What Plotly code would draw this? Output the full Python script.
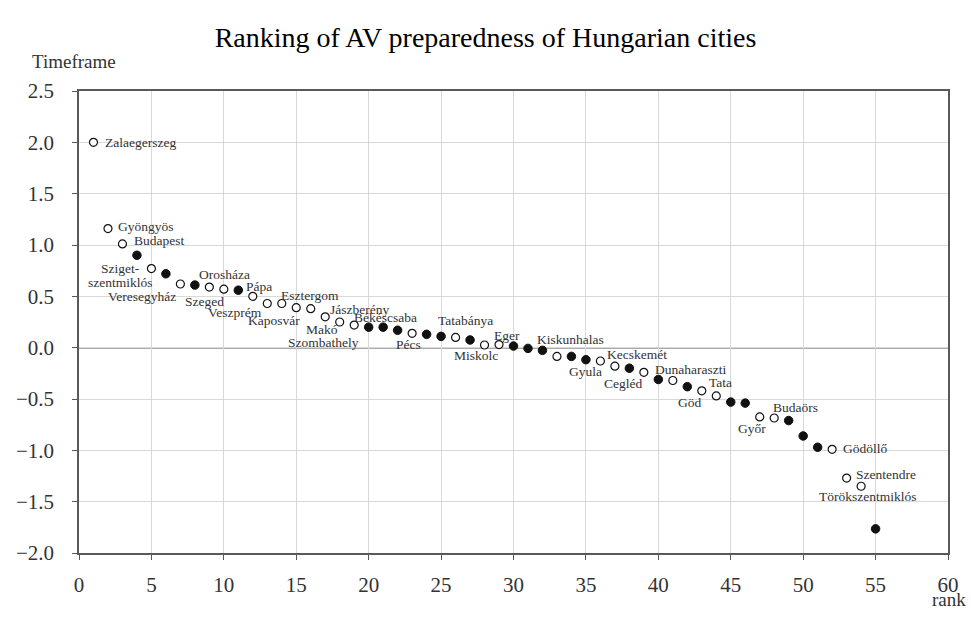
import plotly.graph_objects as go

# ---------------- data ----------------
ranks = list(range(1, 56))
timeframe = [2.00, 1.16, 1.01, 0.90, 0.77, 0.72, 0.62, 0.61, 0.59, 0.57,
             0.56, 0.50, 0.43, 0.43, 0.39, 0.38, 0.30, 0.25, 0.22, 0.20,
             0.20, 0.17, 0.14, 0.13, 0.11, 0.10, 0.075, 0.026, 0.03, 0.016,
             -0.007, -0.026, -0.085, -0.085, -0.117, -0.13, -0.18, -0.20, -0.24, -0.31,
             -0.32, -0.38, -0.42, -0.47, -0.53, -0.54, -0.675, -0.685, -0.71, -0.86,
             -0.97, -0.99, -1.27, -1.35, -1.765]
filled = [0, 0, 0, 1, 0, 1, 0, 1, 0, 0,
          1, 0, 0, 0, 0, 0, 0, 0, 0, 1,
          1, 1, 0, 1, 1, 0, 1, 0, 0, 1,
          1, 1, 0, 1, 1, 0, 0, 1, 0, 1,
          0, 1, 0, 0, 1, 1, 0, 0, 1, 1,
          1, 0, 0, 0, 1]

label_texts = ["Zalaegerszeg", "Gyöngyös", "Budapest", "Sziget-", "szentmiklós",
               "Veresegyház", "Szeged", "Orosháza", "Pápa", "Veszprém", "Kaposvár",
               "Esztergom", "Jászberény", "Makó", "Szombathely", "Békéscsaba", "Pécs",
               "Tatabánya", "Miskolc", "Eger", "Kiskunhalas", "Gyula", "Kecskemét",
               "Cegléd", "Dunaharaszti", "Tata", "Göd", "Budaörs", "Győr", "Gödöllő",
               "Szentendre", "Törökszentmiklós"]
label_ranks = [1, 2, 3, 5, 5, 7, 9, 10, 11, 13, 16, 16, 17, 17, 18, 22, 23, 27, 28, 29,
               31, 35, 36, 38, 39, 43, 43, 49, 47, 52, 53, 54]

# label placement (anchor, x shift px, y shift px) - styling only
label_place = [("left", 10, 0), ("left", 8, 2), ("left", 10, 3),
               ("right", -9, 0), ("center", -31, -14),
               ("right", -2, -12), ("center", -5, -14), ("center", 1, 15), ("left", 6, 4),
               ("right", -3, -9), ("right", -9, -12), ("center", -1, 13), ("left", 3, 7),
               ("center", -3, -13), ("center", -16, -20), ("center", -12, 13),
               ("center", -4, -11), ("center", -5, 19), ("center", -9, -10),
               ("center", 8, 9), ("left", 7, 9), ("center", 0, -12), ("left", 5, 7),
               ("center", -6, -15), ("left", 9, 3), ("left", 5, 8), ("center", -12, -12),
               ("center", 7, 13), ("center", -8, -12), ("left", 9, 1), ("left", 7, 4),
               ("center", 7, -10)]

# ---------------- figure ----------------
FONT = "Liberation Serif"
open_x = [r for r, f in zip(ranks, filled) if not f]
open_y = [v for v, f in zip(timeframe, filled) if not f]
fill_x = [r for r, f in zip(ranks, filled) if f]
fill_y = [v for v, f in zip(timeframe, filled) if f]

fig = go.Figure()
fig.add_trace(go.Scatter(x=open_x, y=open_y, mode="markers",
                         marker=dict(symbol="circle", size=8, color="white",
                                     line=dict(color="#111111", width=1.2)),
                         showlegend=False, hoverinfo="x+y"))
fig.add_trace(go.Scatter(x=fill_x, y=fill_y, mode="markers",
                         marker=dict(symbol="circle", size=8.5, color="#111111",
                                     line=dict(color="#111111", width=1)),
                         showlegend=False, hoverinfo="x+y"))

val_by_rank = dict(zip(ranks, timeframe))
for txt, rk, (anc, xs, ys) in zip(label_texts, label_ranks, label_place):
    fig.add_annotation(x=rk, y=val_by_rank[rk], text=txt, showarrow=False,
                       xanchor=anc, yanchor="middle", xshift=xs, yshift=ys,
                       align="center",
                       font=dict(family=FONT, size=13.5, color="#333333"))

fig.add_annotation(xref="paper", yref="paper", x=-0.0564, y=1.0628, text="Timeframe",
                   showarrow=False, xanchor="left", yanchor="middle",
                   font=dict(family=FONT, size=19, color="#333333"))
fig.add_annotation(xref="paper", yref="paper", x=1.023, y=-0.1017, text="rank",
                   showarrow=False, xanchor="right", yanchor="middle",
                   font=dict(family=FONT, size=19, color="#333333"))

axis_common = dict(showline=True, linecolor="#595959", linewidth=1.5, mirror=True,
                   showgrid=True, gridcolor="#d9d9d9", gridwidth=1,
                   ticks="outside", ticklen=5, tickcolor="#595959", tickwidth=1.2,
                   tickfont=dict(family=FONT, size=21, color="#333333"),
                   zeroline=False, automargin=False)

fig.update_xaxes(range=[0, 60], dtick=5, tick0=0, ticklabelstandoff=7, **axis_common)
fig.update_yaxes(range=[-2.0, 2.5], dtick=0.5, tick0=0, tickformat=".1f",
                 ticklabelstandoff=14, **axis_common)
fig.add_hline(y=0, line=dict(color="#595959", width=1.5), layer="below")

fig.update_layout(
    width=971, height=618,
    margin=dict(l=79, r=23, t=91, b=65),
    paper_bgcolor="white", plot_bgcolor="white",
    title=dict(text="Ranking of AV preparedness of Hungarian cities",
               x=0.5, xref="container", xanchor="center",
               y=1 - 37 / 618, yref="container", yanchor="middle",
               font=dict(family=FONT, size=28, color="#000000")),
)

fig.write_html("out.html", config={"displayModeBar": False},
               post_script="document.body.style.margin='0';document.body.style.padding='0';")
